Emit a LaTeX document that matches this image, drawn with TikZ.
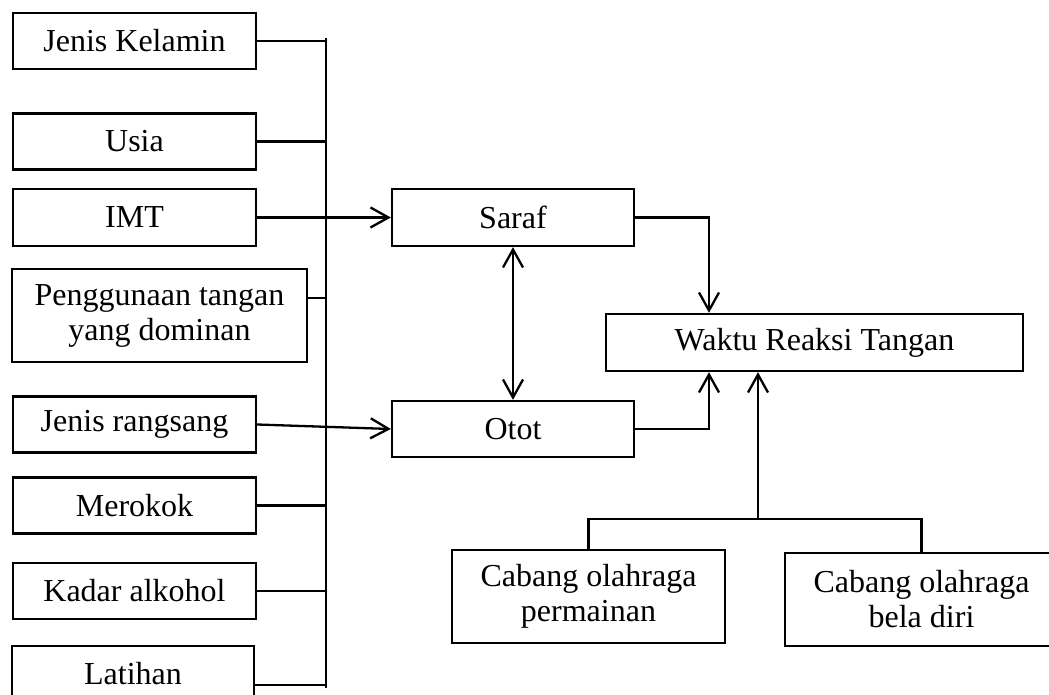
\documentclass[tikz,border=0pt]{standalone}
\usepackage{fontspec}
\setmainfont{Liberation Serif}
\usetikzlibrary{arrows.meta}

\begin{document}
\begin{tikzpicture}[x=0.5pt,y=-0.5pt,line width=1.15pt,
    box/.style={draw, inner sep=0pt, align=center, minimum width=121.5pt, minimum height=28pt,
        font=\fontsize{16}{17.5}\selectfont},
    arr/.style={-{Straight Barb[length=9pt,width=10pt]}},
    dblarr/.style={{Straight Barb[length=9pt,width=10pt]}-{Straight Barb[length=9pt,width=10pt]}}]
            \clip (0,0) rectangle (1049,695);

            % Factors on the left
            \node[box] (kelamin) at (134.5,41) {Jenis Kelamin};
            \node[box] (usia) at (134.5,141.5) {Usia};
            \node[box, minimum height=28.5pt] (imt) at (134.5,217.5) {IMT};
            \node[box, minimum width=147.5pt, minimum height=46.5pt] (tangan) at (159.5,315.5) {Penggunaan tangan\\yang dominan};
            \node[box] (rangsang) at (134.5,424.5) {Jenis rangsang};
            \node[box] (rokok) at (134.5,505.5) {Merokok};
            \node[box] (alkohol) at (134.5,591) {Kadar alkohol};
            \node[box, minimum width=121pt] (latihan) at (133,674) {Latihan};

            % Collecting line
            \coordinate (bustop) at (326,38);
            \coordinate (busbot) at (326,688);
            \draw (bustop) -- (busbot);
            \draw (kelamin.east) -- (kelamin.east -| bustop);
            \draw (usia.east) -- (usia.east -| bustop);
            \draw ([yshift=8.75pt]tangan.east) -- ([yshift=8.75pt]tangan.east -| bustop);
            \draw (rokok.east) -- (rokok.east -| bustop);
            \draw (alkohol.east) -- (alkohol.east -| bustop);
            \draw ([yshift=-5.5pt]latihan.east) -- ([yshift=-5.5pt]latihan.east -| bustop);

            % Middle
            \node[box, minimum width=121pt, minimum height=28.5pt] (saraf) at (513,217.5) {Saraf};
            \node[box, minimum width=121pt] (otot) at (513,429) {Otot};
            \draw[arr] (imt) -- (saraf);
            \draw[arr] (rangsang.east) -- (otot.west);
            \draw[dblarr] (saraf) -- (otot);

            % Right side
            \node[box, minimum width=208.5pt, minimum height=28.5pt] (waktu) at (814.5,342.5) {Waktu Reaksi Tangan};
            \draw[arr] (saraf.east) -| ([xshift=-52.75pt]waktu.north);
            \draw[arr] (otot.east) -| ([xshift=-52.75pt]waktu.south);

            \node[box, minimum width=136.5pt, minimum height=46.5pt] (permainan) at (588.5,596.5) {Cabang olahraga\\permainan};
            \node[box, minimum width=136.5pt, minimum height=46.5pt] (beladiri) at (921.5,599.5) {Cabang olahraga\\bela diri};
            \coordinate (cabang) at (758,519);
            \draw (permainan.north) |- (cabang) -| (beladiri.north);
            \draw[arr] (cabang) -- (cabang |- waktu.south);
\end{tikzpicture}
\end{document}
